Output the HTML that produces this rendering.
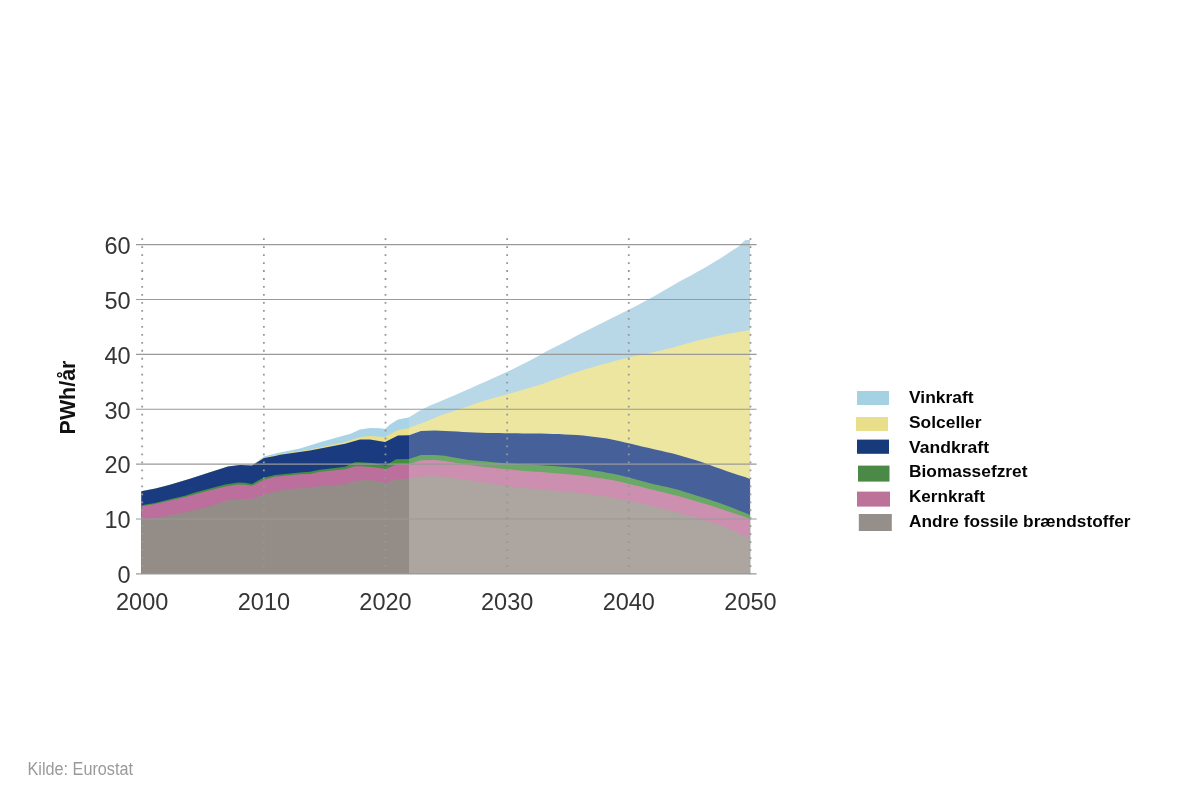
<!DOCTYPE html>
<html><head><meta charset="utf-8"><title>Elproduktion</title>
<style>
html,body{margin:0;padding:0;background:#fff;}
body{width:1200px;height:800px;overflow:hidden;position:relative;}
svg{position:absolute;left:0;top:0;will-change:transform;}
.g{stroke:#999999;stroke-width:1.1;}
.d{stroke:#979797;stroke-width:1.8;stroke-dasharray:1.8 6.175;}
.ax{font-family:"Liberation Sans",Arial,sans-serif;font-size:23.5px;fill:#353535;}
.lg{font-family:"Liberation Sans",Arial,sans-serif;font-weight:bold;font-size:17px;fill:#050505;}
.yl{font-family:"Liberation Sans",Arial,sans-serif;font-weight:bold;font-size:22.4px;fill:#111;}
.src{font-family:"Liberation Sans",Arial,sans-serif;font-size:18px;fill:#9a9a9a;}
</style></head>
<body>
<svg width="1200" height="800" viewBox="0 0 1200 800">
<g><path d="M141.3 574.0 L141.3 491.3 L155.5 488.6 L170.0 484.8 L190.0 478.7 L210.0 472.3 L228.0 466.4 L240.0 464.9 L252.0 465.6 L258.0 461.0 L264.0 456.5 L277.5 452.9 L300.0 448.4 L322.5 441.6 L345.0 435.3 L350.0 434.0 L360.0 429.5 L370.0 428.0 L380.0 428.3 L385.0 429.0 L390.0 424.5 L398.0 419.5 L409.4 417.2 L410.4 417.2 L410.4 574.0 Z" fill="#a9d3e6"/>
<path d="M141.3 574.0 L141.3 491.3 L155.5 488.6 L170.0 484.8 L190.0 478.7 L210.0 472.3 L228.0 466.4 L240.0 464.9 L252.0 465.6 L258.0 461.6 L264.0 457.6 L275.0 455.3 L280.0 454.2 L310.0 449.5 L345.0 442.0 L360.0 437.0 L370.0 436.0 L385.0 437.0 L398.0 430.0 L409.4 428.1 L410.4 428.1 L410.4 574.0 Z" fill="#ebe08a"/>
<path d="M141.3 574.0 L141.3 491.3 L155.5 488.6 L170.0 484.8 L190.0 478.7 L210.0 472.3 L228.0 466.4 L240.0 464.9 L252.0 465.6 L258.0 461.8 L264.0 458.0 L275.0 456.0 L280.0 454.8 L310.0 450.4 L345.0 443.8 L360.0 439.5 L370.0 439.5 L385.0 442.0 L398.0 435.5 L409.4 435.3 L410.4 435.3 L410.4 574.0 Z" fill="#1a3b80"/>
<path d="M141.3 574.0 L141.3 505.3 L155.0 503.0 L170.0 499.3 L185.0 495.8 L195.0 492.5 L210.0 488.5 L225.0 484.5 L238.0 482.6 L245.0 482.8 L252.0 483.9 L258.0 480.6 L264.0 477.6 L275.0 474.9 L280.0 474.4 L300.0 472.5 L310.0 471.8 L320.0 469.7 L345.0 466.7 L355.0 462.3 L360.0 462.3 L372.0 463.0 L386.0 465.6 L396.0 459.2 L409.4 459.1 L410.4 459.1 L410.4 574.0 Z" fill="#43913f"/>
<path d="M141.3 574.0 L141.3 506.3 L155.0 504.0 L170.0 500.5 L185.0 497.0 L195.0 494.2 L210.0 490.3 L225.0 486.6 L238.0 484.6 L245.0 484.8 L252.0 485.8 L264.0 479.8 L275.0 476.6 L280.0 476.3 L300.0 474.2 L310.0 474.0 L320.0 471.7 L345.0 469.3 L355.0 466.3 L360.0 466.3 L372.0 467.0 L386.0 469.0 L396.0 464.4 L409.4 463.9 L410.4 463.9 L410.4 574.0 Z" fill="#bc6f9c"/>
<path d="M141.3 574.0 L141.3 519.2 L155.5 518.3 L170.0 515.3 L190.0 511.3 L210.0 506.1 L228.0 500.3 L240.0 499.1 L252.0 499.1 L264.0 494.4 L275.0 491.5 L280.0 490.6 L300.0 488.2 L310.0 487.8 L320.0 485.9 L345.0 484.3 L355.0 481.0 L360.0 480.3 L372.0 480.3 L386.0 483.0 L396.0 479.2 L409.4 478.4 L410.4 478.4 L410.4 574.0 Z" fill="#948d87"/>
<path d="M409.0 574.0 L409.0 417.2 L412.0 415.6 L420.0 410.6 L430.0 405.6 L440.0 401.6 L445.0 399.2 L451.0 396.8 L457.0 394.2 L463.0 391.6 L469.0 388.9 L475.0 386.2 L481.0 383.5 L487.0 380.9 L493.0 378.2 L499.0 375.5 L505.0 372.8 L511.0 369.9 L517.0 367.0 L523.0 364.0 L529.0 360.9 L535.0 357.7 L541.0 354.4 L547.0 351.1 L553.0 348.0 L559.0 345.0 L565.0 341.9 L571.0 338.7 L577.0 335.6 L583.0 332.5 L589.0 329.5 L595.0 326.5 L601.0 323.5 L607.0 320.5 L613.0 317.5 L619.0 314.5 L625.0 311.5 L631.0 308.5 L637.0 305.4 L643.0 302.3 L649.0 299.0 L655.0 295.7 L661.0 292.3 L667.0 288.8 L673.0 285.2 L679.0 281.8 L685.0 278.5 L691.0 275.4 L697.0 272.1 L703.0 268.7 L709.0 265.2 L715.0 261.6 L721.0 257.9 L727.0 254.0 L733.0 250.0 L739.0 246.3 L742.0 243.1 L745.0 240.3 L747.0 239.9 L750.1 239.9 L750.1 574.0 Z" fill="#b8d8e8"/>
<path d="M409.0 574.0 L409.0 428.1 L420.0 423.8 L430.0 420.0 L440.0 415.6 L445.0 413.9 L451.0 412.1 L457.0 410.0 L463.0 408.0 L469.0 405.9 L475.0 403.8 L481.0 401.8 L487.0 400.0 L493.0 398.3 L499.0 396.6 L505.0 395.0 L511.0 393.2 L517.0 391.5 L523.0 389.7 L529.0 388.0 L535.0 386.3 L541.0 384.4 L547.0 382.3 L553.0 380.1 L559.0 378.0 L565.0 375.9 L571.0 373.8 L577.0 371.9 L583.0 370.0 L589.0 368.2 L595.0 366.5 L601.0 364.8 L607.0 363.2 L613.0 361.6 L619.0 360.1 L625.0 358.6 L631.0 357.1 L637.0 355.8 L643.0 354.5 L649.0 353.2 L655.0 351.8 L661.0 350.4 L667.0 348.9 L673.0 347.4 L679.0 345.7 L685.0 344.0 L691.0 342.4 L697.0 340.8 L703.0 339.3 L709.0 337.9 L715.0 336.5 L721.0 335.3 L727.0 334.1 L733.0 333.0 L739.0 331.9 L745.0 330.9 L750.1 330.0 L750.1 574.0 Z" fill="#ede6a0"/>
<path d="M409.0 574.0 L409.0 435.3 L421.0 431.1 L435.0 430.4 L445.0 430.9 L451.0 431.3 L457.0 431.6 L463.0 431.9 L469.0 432.2 L475.0 432.5 L481.0 432.7 L487.0 432.9 L493.0 433.0 L499.0 433.1 L505.0 433.2 L511.0 433.3 L517.0 433.3 L523.0 433.4 L529.0 433.5 L535.0 433.5 L541.0 433.6 L547.0 433.7 L553.0 433.9 L559.0 434.1 L565.0 434.4 L571.0 434.7 L577.0 435.1 L583.0 435.6 L589.0 436.2 L595.0 436.9 L601.0 437.7 L607.0 438.6 L613.0 439.8 L619.0 441.1 L625.0 442.4 L631.0 443.8 L637.0 445.2 L643.0 446.7 L649.0 448.1 L655.0 449.5 L661.0 450.8 L667.0 452.2 L673.0 453.6 L679.0 455.2 L685.0 456.9 L691.0 458.7 L697.0 460.6 L703.0 462.6 L709.0 464.7 L715.0 466.9 L721.0 469.0 L727.0 471.2 L733.0 473.2 L739.0 475.2 L745.0 477.1 L750.1 478.9 L750.1 574.0 Z" fill="#46619a"/>
<path d="M409.0 574.0 L409.0 459.1 L421.0 454.9 L435.0 454.9 L445.0 455.8 L451.0 456.9 L457.0 458.1 L463.0 459.1 L469.0 459.9 L475.0 460.5 L481.0 461.0 L487.0 461.6 L493.0 462.2 L499.0 462.8 L505.0 463.2 L511.0 463.6 L517.0 464.0 L523.0 464.3 L529.0 464.6 L535.0 465.0 L541.0 465.3 L547.0 465.7 L553.0 466.0 L559.0 466.5 L565.0 466.9 L571.0 467.4 L577.0 468.0 L583.0 468.8 L589.0 469.7 L595.0 470.7 L601.0 471.6 L607.0 472.7 L613.0 473.8 L619.0 475.1 L625.0 476.5 L631.0 478.0 L637.0 479.7 L643.0 481.3 L649.0 482.9 L655.0 484.4 L661.0 485.7 L667.0 487.1 L673.0 488.5 L679.0 490.1 L685.0 491.9 L691.0 493.8 L697.0 495.7 L703.0 497.6 L709.0 499.5 L715.0 501.5 L721.0 503.6 L727.0 505.8 L733.0 508.1 L739.0 510.4 L745.0 512.8 L750.1 515.0 L750.1 574.0 Z" fill="#6aa865"/>
<path d="M409.0 574.0 L409.0 463.9 L421.0 460.2 L435.0 460.0 L445.0 460.9 L451.0 461.9 L457.0 463.0 L463.0 464.0 L469.0 464.9 L475.0 465.8 L481.0 466.5 L487.0 467.2 L493.0 467.8 L499.0 468.5 L505.0 469.0 L511.0 469.6 L517.0 470.2 L523.0 470.7 L529.0 471.2 L535.0 471.7 L541.0 472.1 L547.0 472.6 L553.0 473.0 L559.0 473.5 L565.0 473.9 L571.0 474.5 L577.0 475.1 L583.0 475.8 L589.0 476.6 L595.0 477.4 L601.0 478.2 L607.0 479.2 L613.0 480.3 L619.0 481.5 L625.0 482.9 L631.0 484.4 L637.0 485.8 L643.0 487.3 L649.0 488.9 L655.0 490.3 L661.0 491.8 L667.0 493.2 L673.0 494.7 L679.0 496.3 L685.0 498.0 L691.0 499.7 L697.0 501.5 L703.0 503.3 L709.0 505.1 L715.0 507.1 L721.0 509.1 L727.0 511.1 L733.0 513.1 L739.0 515.1 L745.0 517.0 L750.1 518.9 L750.1 574.0 Z" fill="#cc8fb0"/>
<path d="M409.0 574.0 L409.0 478.4 L421.0 476.6 L435.0 476.2 L445.0 477.0 L451.0 477.7 L457.0 478.5 L463.0 479.4 L469.0 480.3 L475.0 481.2 L481.0 482.1 L487.0 483.0 L493.0 483.9 L499.0 484.8 L505.0 485.6 L511.0 486.5 L517.0 487.2 L523.0 487.9 L529.0 488.5 L535.0 489.0 L541.0 489.5 L547.0 489.9 L553.0 490.4 L559.0 491.0 L565.0 491.5 L571.0 492.1 L577.0 492.8 L583.0 493.5 L589.0 494.2 L595.0 495.0 L601.0 495.8 L607.0 496.7 L613.0 497.8 L619.0 498.9 L625.0 500.1 L631.0 501.4 L637.0 502.6 L643.0 503.9 L649.0 505.3 L655.0 506.7 L661.0 508.1 L667.0 509.6 L673.0 511.1 L679.0 512.8 L685.0 514.4 L691.0 516.1 L697.0 517.9 L703.0 519.7 L709.0 521.5 L715.0 523.5 L721.0 525.6 L727.0 528.0 L733.0 530.5 L739.0 533.2 L745.0 536.0 L750.1 538.6 L750.1 574.0 Z" fill="#aca5a0"/></g>
<g><line x1="136" x2="756.6" y1="573.90" y2="573.90" class="g"/>
<line x1="136" x2="756.6" y1="519.02" y2="519.02" class="g"/>
<line x1="136" x2="756.6" y1="464.14" y2="464.14" class="g"/>
<line x1="136" x2="756.6" y1="409.26" y2="409.26" class="g"/>
<line x1="136" x2="756.6" y1="354.38" y2="354.38" class="g"/>
<line x1="136" x2="756.6" y1="299.50" y2="299.50" class="g"/>
<line x1="136" x2="756.6" y1="244.62" y2="244.62" class="g"/></g>
<g><line x1="142.20" x2="142.20" y1="238.2" y2="574" class="d"/>
<line x1="263.85" x2="263.85" y1="238.2" y2="574" class="d"/>
<line x1="385.50" x2="385.50" y1="238.2" y2="574" class="d"/>
<line x1="507.15" x2="507.15" y1="238.2" y2="574" class="d"/>
<line x1="628.80" x2="628.80" y1="238.2" y2="574" class="d"/>
<line x1="750.45" x2="750.45" y1="238.2" y2="574" class="d"/></g>
<g><text x="130.6" y="583.1" class="ax" text-anchor="end">0</text>
<text x="130.6" y="528.2" class="ax" text-anchor="end">10</text>
<text x="130.6" y="473.3" class="ax" text-anchor="end">20</text>
<text x="130.6" y="418.5" class="ax" text-anchor="end">30</text>
<text x="130.6" y="363.6" class="ax" text-anchor="end">40</text>
<text x="130.6" y="308.7" class="ax" text-anchor="end">50</text>
<text x="130.6" y="253.8" class="ax" text-anchor="end">60</text></g>
<g><text x="142.2" y="609.6" class="ax" text-anchor="middle">2000</text>
<text x="263.9" y="609.6" class="ax" text-anchor="middle">2010</text>
<text x="385.5" y="609.6" class="ax" text-anchor="middle">2020</text>
<text x="507.2" y="609.6" class="ax" text-anchor="middle">2030</text>
<text x="628.8" y="609.6" class="ax" text-anchor="middle">2040</text>
<text x="750.5" y="609.6" class="ax" text-anchor="middle">2050</text></g>
<text class="yl" transform="translate(74.5,434.4) rotate(-90)" textLength="73.8" lengthAdjust="spacingAndGlyphs">PWh/år</text>
<g><rect x="857.0" y="391.0" width="32.0" height="14.0" fill="#a5d2e2"/>
<text x="909" y="403.3" class="lg" textLength="64.5" lengthAdjust="spacingAndGlyphs">Vinkraft</text>
<rect x="856.0" y="417.0" width="32.0" height="14.0" fill="#e9df8a"/>
<text x="909" y="428.0" class="lg" textLength="72.5" lengthAdjust="spacingAndGlyphs">Solceller</text>
<rect x="857.0" y="439.6" width="32.0" height="14.2" fill="#173a7a"/>
<text x="909" y="452.5" class="lg" textLength="80.0" lengthAdjust="spacingAndGlyphs">Vandkraft</text>
<rect x="858.0" y="465.6" width="31.5" height="16.0" fill="#4a8a46"/>
<text x="909" y="477.3" class="lg" textLength="118.5" lengthAdjust="spacingAndGlyphs">Biomassefzret</text>
<rect x="857.0" y="491.6" width="33.0" height="15.0" fill="#bc7299"/>
<text x="909" y="502.1" class="lg" textLength="76.0" lengthAdjust="spacingAndGlyphs">Kernkraft</text>
<rect x="858.8" y="514.0" width="33.0" height="17.0" fill="#948f8a"/>
<text x="909" y="526.9" class="lg" textLength="221.5" lengthAdjust="spacingAndGlyphs">Andre fossile brændstoffer</text></g>
<text x="27.5" y="774.7" class="src" textLength="105.5" lengthAdjust="spacingAndGlyphs">Kilde: Eurostat</text>
</svg>
</body></html>
